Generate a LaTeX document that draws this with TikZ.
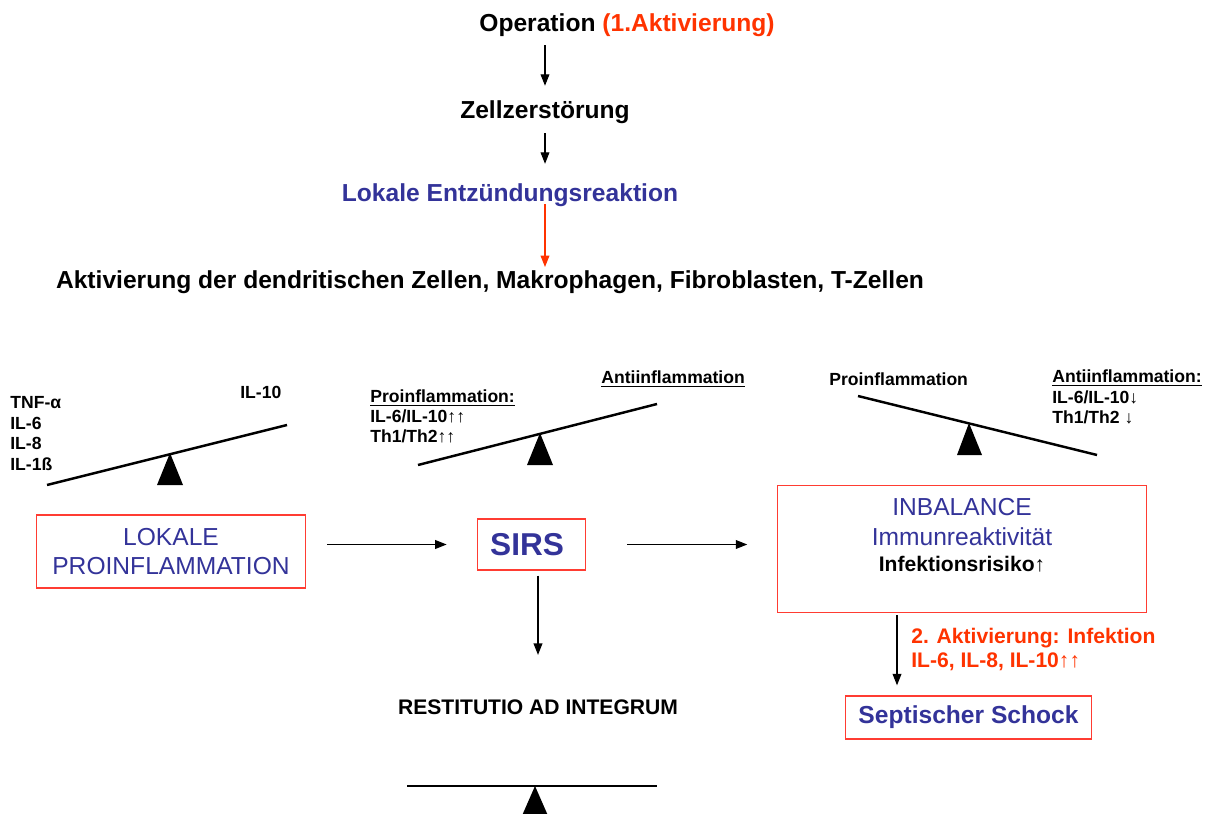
\documentclass[tikz,border=0pt]{standalone}
\usepackage{fontspec}
\setmainfont{Liberation Sans}
\usetikzlibrary{arrows.meta}
\definecolor{dunkelblau}{RGB}{51,51,153}
\definecolor{hellrot}{RGB}{255,51,0}
\definecolor{rahmen}{RGB}{255,60,50}

\begin{document}
\begin{tikzpicture}
[x=0.02cm, y=-0.02cm,
txt/.style={inner sep=0pt, font=\fontsize{14}{17}\selectfont\bfseries},
klein/.style={inner sep=0pt, align=left, anchor=west, font=\fontsize{10}{11.8}\selectfont\bfseries},
kasten/.style={draw=rahmen, line width=0.8pt, inner sep=0pt, align=center, text=dunkelblau},
pfeil/.style={-{Triangle[length=6.5pt,width=5pt]}, line width=0.6pt},
balken/.style={line width=1.4pt}]
\useasboundingbox (0,0) rectangle (1211,814);
\node[txt] (op) at (627,25) {Operation \textcolor{hellrot}{(1.Aktivierung)}};
\node[txt] (zell) at (545,112) {Zellzerstörung};
\node[txt, text=dunkelblau] (lok) at (510,195) {Lokale Entzündungsreaktion};
\node[txt] (akt) at (490,282) {Aktivierung der dendritischen Zellen, Makrophagen, Fibroblasten, T-Zellen};
\draw[pfeil, shorten <=4.8pt, shorten >=8.2pt] (zell.north |- op.south) -- (zell.north);
\draw[pfeil, shorten <=5.4pt, shorten >=11pt] (zell.south) -- (zell.south |- lok.north);
\draw[pfeil, hellrot, shorten <=-1.5pt, shorten >=1.8pt] (zell.south |- lok.south) -- (zell.south |- akt.north);
\draw[balken] (47,485) -- (287,425);
\fill (157,485) -- (170,453) -- (183,485) -- cycle;
\node[klein] (links) at (10,433.5) {TNF-α\\IL-6\\IL-8\\IL-1ß};
\node[klein] (il10) at (240,392) {IL-10};
\draw[balken] (418,465) -- (657,404);
\fill (527,465) -- (540,433) -- (553,465) -- cycle;
\node[klein, font=\fontsize{10}{11.6}\selectfont\bfseries] (promitte) at (370,416.5) {\underline{Proinflammation:}\\IL-6/IL-10↑↑\\Th1/Th2↑↑};
\node[klein] (antimitte) at (601,379) {\underline{Antiinflammation}};
\draw[balken] (858,396) -- (1097,455);
\fill (957,455) -- (969,423) -- (982,455) -- cycle;
\node[klein] (prorechts) at (829,379) {Proinflammation};
\node[klein] (antirechts) at (1052,397) {\underline{Antiinflammation:}\\IL-6/IL-10↓\\Th1/Th2 ↓};
\node[kasten, minimum width=153pt, minimum height=41.4pt, font=\fontsize{14}{17}\selectfont] (lokpro) at (171,551.5) {LOKALE\\PROINFLAMMATION};
\node[kasten, minimum width=61.8pt, minimum height=28.9pt, font=\fontsize{18}{20}\selectfont\bfseries] (sirs) at (531.5,544.5) {SIRS\hspace{5pt}};
\node[kasten, minimum width=209.7pt, minimum height=72.6pt] (inb) at (962,549) {};
\node[inner sep=0pt, align=center, text=dunkelblau, font=\fontsize{14}{17}\selectfont] (inbtxt) at (962,535) {INBALANCE\\Immunreaktivität\\[-2.3pt]{\fontsize{12}{14}\selectfont\bfseries\color{black}Infektionsrisiko↑}};
\node[kasten, minimum width=140pt, minimum height=24.4pt, font=\fontsize{14}{17}\selectfont\bfseries] (sep) at (968.5,717.5) {Septischer Schock};
\node[txt, font=\fontsize{12}{14}\selectfont\bfseries] (rest) at (538,707) {RESTITUTIO AD INTEGRUM};
\node[klein, text=hellrot, font=\fontsize{12}{14.2}\selectfont\bfseries] (infekt) at (911,649.5) {2. Aktivierung: Infektion\\IL-6, IL-8, IL-10↑↑};
\draw[pfeil, shorten <=11.9pt, shorten >=17pt] (lokpro.east |- sirs.west) -- (sirs.west);
\draw[pfeil, shorten <=23.2pt, shorten >=17pt] (sirs.east) -- (inb.west |- sirs.east);
\draw[pfeil, shorten <=2.8pt, shorten >=25.2pt] (sirs.south -| rest.north) -- (rest.north);
\draw[pfeil, shorten <=1pt, shorten >=5.7pt] ([xshift=-1.3cm]inb.south) -- ([xshift=-1.3cm]inb.south |- sep.north);
\draw[balken] (407,786) -- (657,786);
\fill (521,818) -- (535,786) -- (549,818) -- cycle;
\end{tikzpicture}
\end{document}
